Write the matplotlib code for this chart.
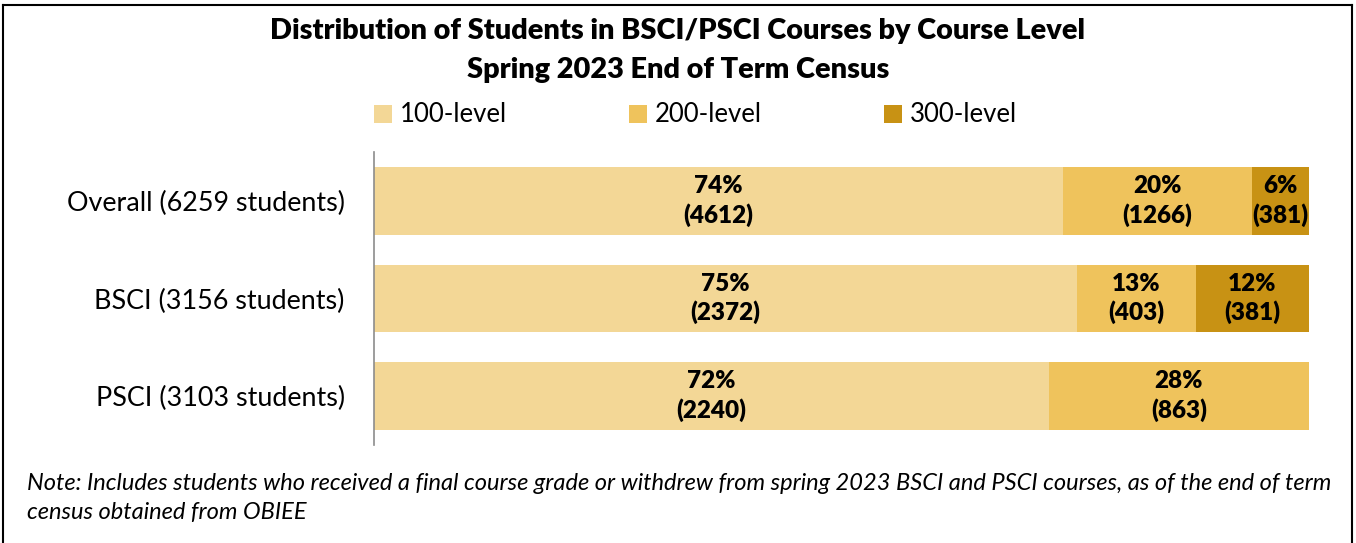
import matplotlib
matplotlib.use("Agg")
import matplotlib.pyplot as plt
from matplotlib.lines import Line2D
from matplotlib.patches import Patch

plt.rcParams['font.family'] = ['Lato', 'DejaVu Sans']

groups = ["Overall (6259 students)", "BSCI (3156 students)", "PSCI (3103 students)"]
levels = ["100-level", "200-level", "300-level"]
counts_100 = [4612, 2372, 2240]
counts_200 = [1266, 403, 863]
counts_300 = [381, 381, 0]
colors = ["#F3D796", "#EFC35C", "#C89214"]

fig = plt.figure(figsize=(13.56, 5.43), dpi=100)
ax = fig.add_axes([374/1356, 1-445/543, (1309-374)/1356, 293/543])

series = [counts_100, counts_200, counts_300]
totals = [sum(s[i] for s in series) for i in range(len(groups))]
left = [0.0] * len(groups)
for lvl, vals, col in zip(levels, series, colors):
    frac = [v / t for v, t in zip(vals, totals)]
    bars = ax.barh(range(len(groups)), frac, left=left, height=0.69,
                   color=col, label=lvl)
    for i, (f, v) in enumerate(zip(frac, vals)):
        if v > 0:
            ax.text(left[i] + f / 2, i, "%d%%\n(%d)" % (round(f * 100), v),
                    ha="center", va="center", fontsize=17.5, fontweight="heavy",
                    linespacing=1.3)
    left = [l + f for l, f in zip(left, frac)]

ax.set_xlim(0, 1)
ax.set_ylim(2.5, -0.5)
ax.set_yticks(range(len(groups)))
ax.set_yticklabels(groups, fontsize=19.4)
ax.tick_params(axis="y", length=0, pad=21)
ax.set_xticks([])
for s in ["top", "right", "bottom"]:
    ax.spines[s].set_visible(False)
ax.spines["left"].set_color("#8c8c8c")
ax.spines["left"].set_linewidth(1.2)

fig.text(0.5, 1-31/543, "Distribution of Students in BSCI/PSCI Courses by Course Level",
         ha="center", va="center", fontsize=20.8, fontweight="heavy")
fig.text(0.5, 1-70/543, "Spring 2023 End of Term Census",
         ha="center", va="center", fontsize=20.8, fontweight="heavy")

handles = [Patch(facecolor=c, edgecolor="none") for c in colors]
fig.legend(handles, levels, loc="center", bbox_to_anchor=(0.513, 1-115/543),
           ncol=3, frameon=False, fontsize=18.5, handlelength=0.7, handleheight=0.7,
           handletextpad=0.3, columnspacing=4.75)

fig.text(27/1356, 1-484/543,
         "Note: Includes students who received a final course grade or withdrew from spring 2023 BSCI and PSCI courses, as of the end of term",
         ha="left", va="center", fontsize=17, style="italic")
fig.text(27/1356, 1-513/543, "census obtained from OBIEE",
         ha="left", va="center", fontsize=17, style="italic")

# outer border
x0, x1, yt = 3/1356, 1352/1356, 1-5/543
for xs, ys in [([x0, x0], [0, yt]), ([x0, x1], [yt, yt]), ([x1, x1], [yt, 0])]:
    fig.add_artist(Line2D(xs, ys, transform=fig.transFigure, color="black", lw=1.5))

fig.savefig("out.png", dpi=100)
